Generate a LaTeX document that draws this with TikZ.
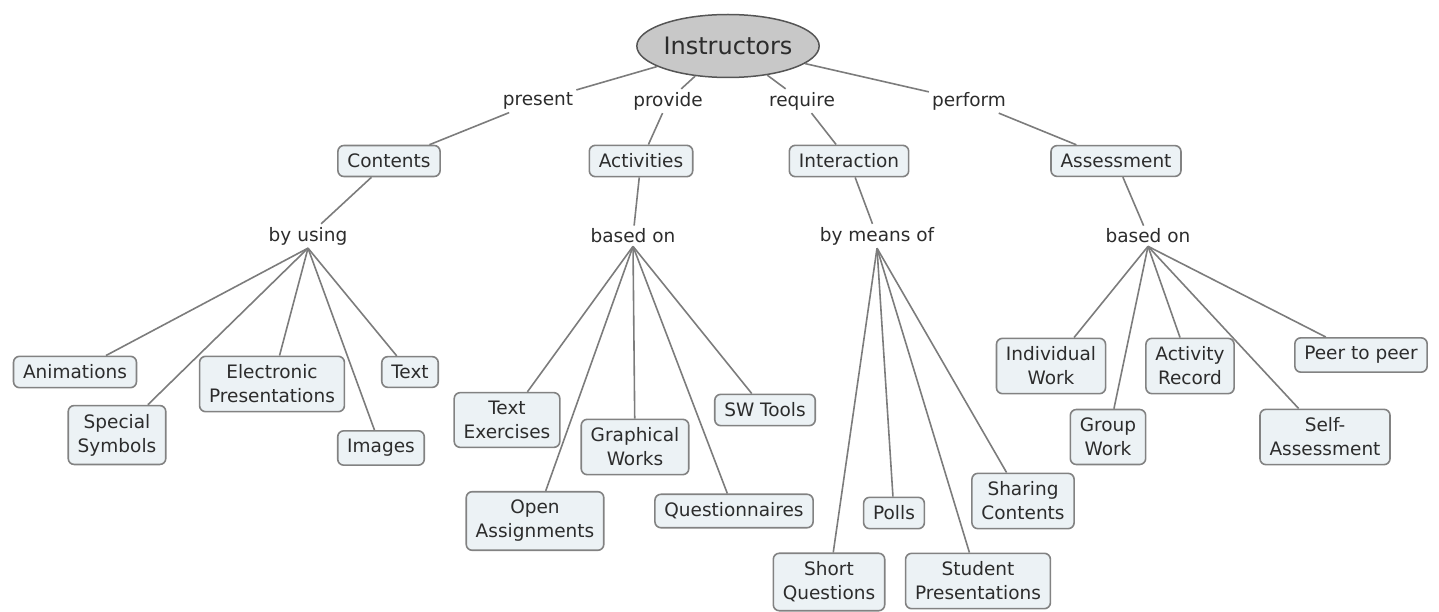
\documentclass[tikz,border=0pt]{standalone}
\usepackage{fontspec}
\setmainfont{DejaVu Sans}
\usetikzlibrary{shapes.geometric}
\definecolor{boxfill}{HTML}{ECF2F5}
\definecolor{boxline}{HTML}{828282}
\definecolor{txt}{HTML}{2C2C2C}
\definecolor{conncol}{HTML}{7C7C7C}
\definecolor{ellfill}{HTML}{C8C8C8}
\definecolor{ellline}{HTML}{555555}
\tikzset{
  concept/.style={draw=boxline, line width=1.6pt, fill=boxfill, rounded corners=6pt,
    text=txt, font=\fontsize{18.5}{24}\selectfont, align=center,
    inner xsep=9.5pt, inner ysep=8.5pt},
  lab/.style={text=txt, font=\fontsize{18.5}{24}\selectfont, inner xsep=3pt, inner ysep=3pt},
  inst/.style={ellipse, draw=ellline, line width=1.5pt, fill=ellfill, text=txt,
    font=\fontsize{24}{28}\selectfont, minimum width=157pt, minimum height=63pt, inner sep=0pt},
  conn/.style={draw=conncol, line width=1.6pt}
}
\begin{document}
\begin{tikzpicture}[x=1pt,y=-1pt]
\useasboundingbox (0,0) rectangle (1439,612);
% top
\node[inst] (instr) at (728,46) {Instructors};
\node[lab] (present) at (538,101) {present};
\node[lab] (provide) at (668,101) {provide};
\node[lab] (require) at (802,101) {require};
\node[lab] (perform) at (969,101) {perform};
\node[concept] (contents) at (389,161) {Contents};
\node[concept] (activities) at (641,161) {Activities};
\node[concept] (interaction) at (849,161) {Interaction};
\node[concept] (assessment) at (1116,161) {Assessment};
\node[lab] (byusing) at (308,236) {by using};
\node[lab] (basedA) at (633,236) {based on};
\node[lab] (bymeans) at (877,236) {by means of};
\node[lab] (basedB) at (1148,236) {based on};
% contents leaves
\node[concept] (anim) at (75,372) {Animations};
\node[concept] (special) at (117,435) {Special\\Symbols};
\node[concept] (electronic) at (272,384) {Electronic\\Presentations};
\node[concept] (text) at (410,372) {Text};
\node[concept] (images) at (381,448) {Images};
% activities leaves
\node[concept] (textex) at (507,420) {Text\\Exercises};
\node[concept] (open) at (535,521) {Open\\Assignments};
\node[concept] (graph) at (635,447) {Graphical\\Works};
\node[concept] (quest) at (734,511) {Questionnaires};
\node[concept] (sw) at (765,410) {SW Tools};
% interaction leaves
\node[concept] (short) at (829,582) {Short\\Questions};
\node[concept] (polls) at (894,513) {Polls};
\node[concept] (student) at (978,581) {Student\\Presentations};
\node[concept] (sharing) at (1023,501) {Sharing\\Contents};
% assessment leaves
\node[concept] (indiv) at (1051,366) {Individual\\Work};
\node[concept] (group) at (1108,437) {Group\\Work};
\node[concept] (activity) at (1190,366) {Activity\\Record};
\node[concept] (self) at (1325,437) {Self-\\Assessment};
\node[concept] (peer) at (1361,355) {Peer to peer};
% connectors
\draw[conn] (instr) -- (present);
\draw[conn] (present) -- (contents);
\draw[conn] (instr) -- (provide);
\draw[conn] (provide) -- (activities);
\draw[conn] (instr) -- (require);
\draw[conn] (require) -- (interaction);
\draw[conn] (instr) -- (perform);
\draw[conn] (perform) -- (assessment);
\draw[conn] (contents) -- (byusing);
\draw[conn] (activities) -- (basedA);
\draw[conn] (interaction) -- (bymeans);
\draw[conn] (assessment) -- (basedB);
\foreach \t in {anim,special,electronic,text,images}
  \draw[conn] (byusing.south) -- (\t);
\foreach \t in {textex,open,graph,quest,sw}
  \draw[conn] (basedA.south) -- (\t);
\foreach \t in {short,polls,student,sharing}
  \draw[conn] (bymeans.south) -- (\t);
\foreach \t in {indiv,group,activity,self,peer}
  \draw[conn] (basedB.south) -- (\t);
\end{tikzpicture}
\end{document}
